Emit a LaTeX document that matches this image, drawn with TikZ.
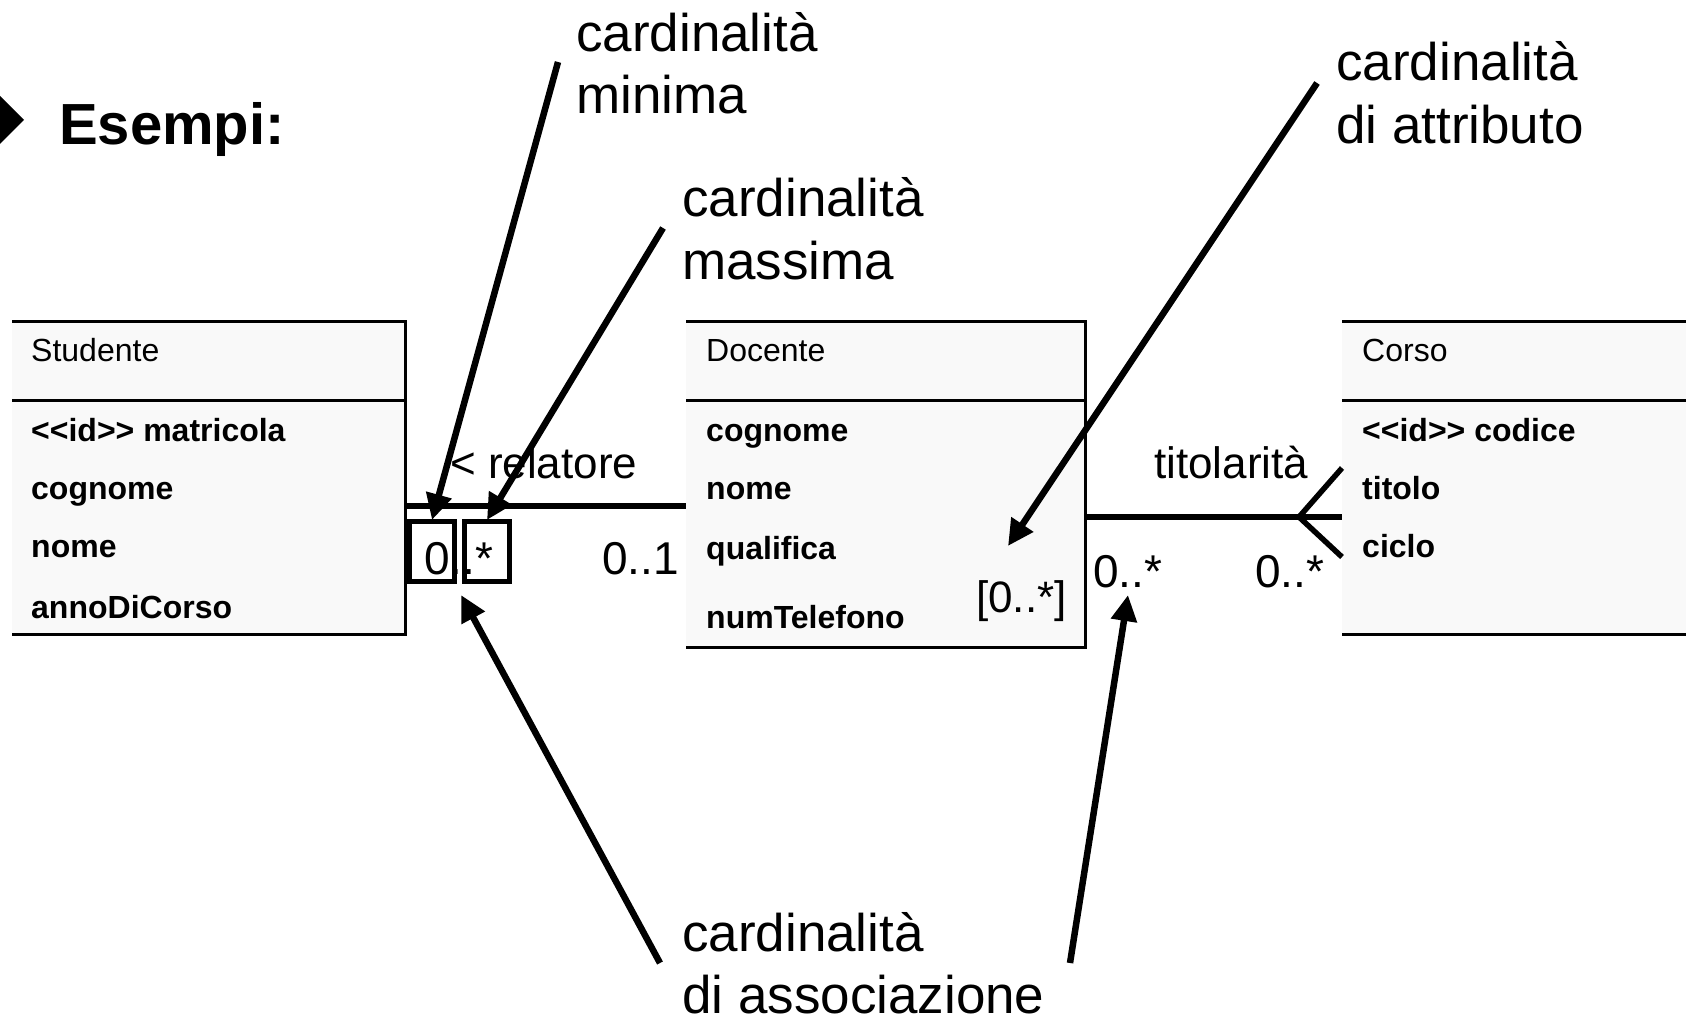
\documentclass[tikz,border=0pt]{standalone}
\usepackage{fontspec}
\setmainfont{Liberation Sans}
\usetikzlibrary{arrows.meta}
\definecolor{boxfill}{RGB}{249,249,249}
\tikzset{
  clsbox/.style={fill=boxfill, draw=none, inner sep=0pt, anchor=north west},
  edgeline/.style={line width=3pt},
  assoc/.style={line width=6.5pt},
  pointer/.style={line width=6.5pt, -{Triangle[length=26pt,width=25pt]}},
  cardbox/.style={draw, line width=5pt, minimum width=45pt, minimum height=60pt, inner sep=0pt},
  callout/.style={font=\fontsize{53}{62}\selectfont, anchor=base west, inner sep=0pt},
  clsname/.style={font=\fontsize{32}{38}\selectfont, anchor=base west, inner sep=0pt},
  attr/.style={font=\bfseries\fontsize{32}{38}\selectfont, anchor=base west, inner sep=0pt},
  lbl/.style={font=\fontsize{44}{52}\selectfont, anchor=base west, inner sep=0pt},
  mult/.style={font=\fontsize{46}{54}\selectfont, anchor=base west, inner sep=0pt},
  title/.style={font=\bfseries\fontsize{58}{68}\selectfont, anchor=base west, inner sep=0pt},
}
\begin{document}
\begin{tikzpicture}[x=1pt, y=-1pt]
\useasboundingbox (0,0) rectangle (1686,1022);

% bullet and title
\fill (-24,120) -- (0,96) -- (24,120) -- (0,144) -- cycle;
\node[title] (titolo) at (59,145) {Esempi:};

% class boxes
\node[clsbox, minimum width=393pt, minimum height=313pt] (stud) at (12,321) {};
\node[clsbox, minimum width=399pt, minimum height=326pt] (doc) at (686,321) {};
\node[clsbox, minimum width=420pt, minimum height=313pt] (corso) at (1342,321) {};

\draw[edgeline] (stud.north west) -- (stud.north east) -- (stud.south east) -- (stud.south west);
\draw[edgeline] ([yshift=-79pt]stud.north west) -- ([yshift=-79pt]stud.north east);
\draw[edgeline] (doc.north west) -- (doc.north east) -- (doc.south east) -- (doc.south west);
\draw[edgeline] ([yshift=-79pt]doc.north west) -- ([yshift=-79pt]doc.north east);
\draw[edgeline] (corso.north west) -- (corso.north east) -- (corso.south east) -- (corso.south west);
\draw[edgeline] ([yshift=-79pt]corso.north west) -- ([yshift=-79pt]corso.north east);

% class texts
\node[clsname] (nStud) at (31,361) {Studente};
\node[attr] (s1) at (31,441) {<{}<id>{}> matricola};
\node[attr] (s2) at (31,499) {cognome};
\node[attr] (s3) at (31,557) {nome};
\node[attr] (s4) at (31,618) {annoDiCorso};

\node[clsname] (nDoc) at (706,361) {Docente};
\node[attr] (d1) at (706,441) {cognome};
\node[attr] (d2) at (706,499) {nome};
\node[attr] (d3) at (706,559) {qualifica};
\node[attr] (d4) at (706,628) {numTelefono};
\node[lbl] (attrcard) at (976,612) {[0..*]};

\node[clsname] (nCorso) at (1362,361) {Corso};
\node[attr] (c1) at (1362,441) {<{}<id>{}> codice};
\node[attr] (c2) at (1362,499) {titolo};
\node[attr] (c3) at (1362,557) {ciclo};

% associations
\draw[assoc] (stud.east |- 0,506) -- (doc.west |- 0,506);
\draw[assoc] (doc.east |- 0,517) -- (corso.west |- 0,517);
\coordinate (cf) at (1299,517);
\draw[line width=5.5pt] (corso.west |- 0,468) -- (cf) -- (corso.west |- 0,557);

\node[lbl] (relatore) at (450,478) {< relatore};
\node[mult] (card1) at (424,574) {0..*};
\node[mult] (card2) at (602,574) {0..1};
\node[lbl] (titolarita) at (1154,478) {titolarità};
\node[mult] (card3) at (1093,587) {0..*};
\node[mult] (card4) at (1255,587) {0..*};

% highlight boxes
\node[cardbox] (bmin) at (432,551.5) {};
\node[cardbox] (bmax) at (487,551.5) {};

% callouts
\node[callout] (cmin1) at (576,52) {cardinalità};
\node[callout] (cmin2) at (576,114) {minima};
\node[callout] (cmax1) at (682,216) {cardinalità};
\node[callout] (cmax2) at (682,279) {massima};
\node[callout] (catt1) at (1336,81) {cardinalità};
\node[callout] (catt2) at (1336,143) {di attributo};
\node[callout] (cass1) at (682,951) {cardinalità};
\node[callout] (cass2) at (682,1013) {di associazione};

% pointer arrows
\coordinate (pMin) at (558,62);
\coordinate (pMax) at (663,228);
\coordinate (pAtt) at (1317,83);
\coordinate (tAtt) at (1008,546);
\coordinate (pAs1) at (660,963);
\coordinate (tAs1) at (461,595);
\coordinate (pAs2) at (1070,963);
\coordinate (tAs2) at (1128,595);

\draw[pointer] (pMin) -- ([yshift=-1pt]bmin.north);
\draw[pointer] (pMax) -- ([yshift=-1pt]bmax.north);
\draw[pointer] (pAtt) -- (tAtt);
\draw[pointer] (pAs1) -- (tAs1);
\draw[pointer] (pAs2) -- (tAs2);
\end{tikzpicture}
\end{document}
